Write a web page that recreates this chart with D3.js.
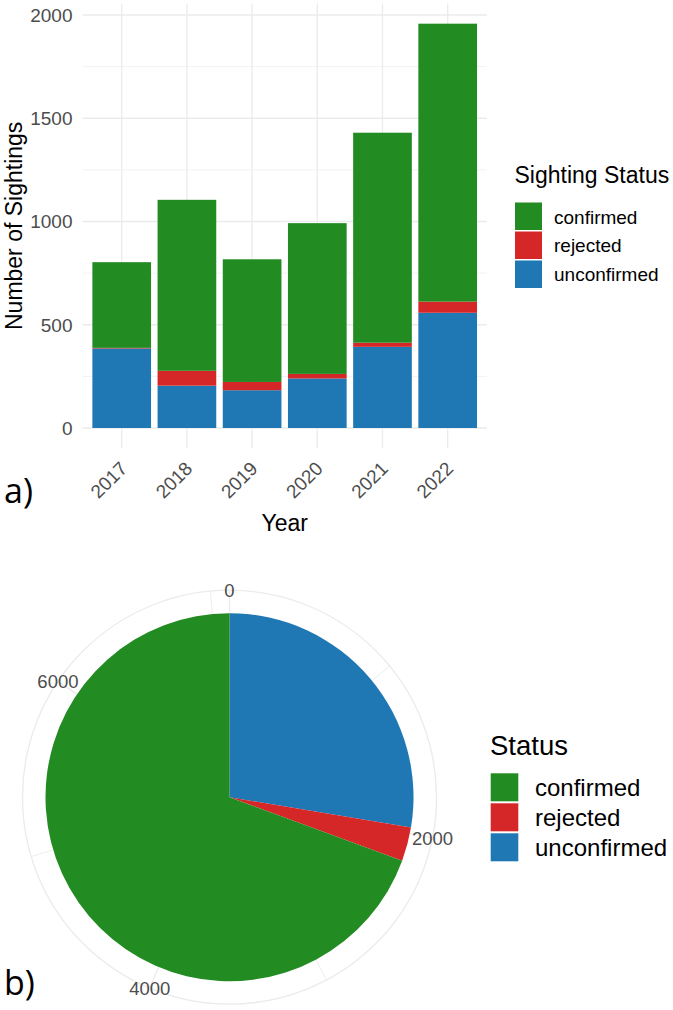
<!DOCTYPE html>
<html>
<head>
<meta charset="utf-8">
<script src="https://cdn.jsdelivr.net/npm/d3@7"></script>
<style>
  body { margin: 0; background: #fff; }
  text { font-family: "Liberation Sans", Arial, sans-serif; }
</style>
</head>
<body>
<svg id="chart" width="673" height="1010"></svg>
<script>
    // data
    var years = ["2017", "2018", "2019", "2020", "2021", "2022"];
    var unconfirmed = [385, 205, 183, 240, 393, 558];
    var rejected = [3, 72, 40, 22, 20, 54];
    var confirmed = [415, 828, 594, 730, 1017, 1346];
    var statusKeys = ["unconfirmed", "rejected", "confirmed"];
    var legendKeys = ["confirmed", "rejected", "unconfirmed"];
    var yTicks = [0, 500, 1000, 1500, 2000];
    var yMinor = [250, 750, 1250, 1750];
    var pieTicks = [0, 2000, 4000, 6000];
    var pieMinor = [1000, 3000, 5000, 7000];

    var colors = { confirmed: "#228b22", rejected: "#d62728", unconfirmed: "#1f77b4" };
    var grid = "#ebebeb";
    var tickCol = "#4d4d4d";

    var svg = d3.select("#chart");

    // ---------- a) stacked bars ----------
    var rows = years.map(function (y, i) {
        return { year: y, unconfirmed: unconfirmed[i], rejected: rejected[i], confirmed: confirmed[i] };
    });
    var totals = rows.map(function (d) { return d.unconfirmed + d.rejected + d.confirmed; });
    var maxTotal = d3.max(totals);

    var x = d3.scaleBand()
        .domain(years)
        .range([82.6, 486.8])
        .paddingInner(0.1)
        .paddingOuter(0.15);

    var y = d3.scaleLinear()
        .domain([0, 2000])
        .range([428, 15]);

    var panelTop = y(maxTotal * 1.05);
    var panelBottom = y(-maxTotal * 0.05);

    var barG = svg.append("g");

    barG.selectAll(".hminor").data(yMinor).enter().append("line")
        .attr("x1", 82.6).attr("x2", 486.8)
        .attr("y1", d => y(d)).attr("y2", d => y(d))
        .attr("stroke", grid).attr("stroke-width", 0.7);

    barG.selectAll(".hmajor").data(yTicks).enter().append("line")
        .attr("x1", 82.6).attr("x2", 486.8)
        .attr("y1", d => y(d)).attr("y2", d => y(d))
        .attr("stroke", grid).attr("stroke-width", 1.3);

    barG.selectAll(".vmajor").data(years).enter().append("line")
        .attr("x1", d => x(d) + x.bandwidth() / 2).attr("x2", d => x(d) + x.bandwidth() / 2)
        .attr("y1", panelTop).attr("y2", panelBottom)
        .attr("stroke", grid).attr("stroke-width", 1.3);

    var stack = d3.stack().keys(statusKeys)(rows);

    barG.selectAll(".layer").data(stack).enter().append("g")
        .attr("fill", d => colors[d.key])
        .selectAll("rect").data(d => d).enter().append("rect")
        .attr("x", d => x(d.data.year))
        .attr("width", x.bandwidth())
        .attr("y", d => y(d[1]))
        .attr("height", d => y(d[0]) - y(d[1]));

    // y tick labels
    barG.selectAll(".ylab").data(yTicks).enter().append("text")
        .attr("x", 72.5)
        .attr("y", d => y(d))
        .attr("dy", "0.36em")
        .attr("text-anchor", "end")
        .attr("font-size", 19)
        .attr("fill", tickCol)
        .text(d => d);

    // x tick labels, rotated 45
    barG.selectAll(".xlab").data(years).enter().append("text")
        .attr("transform", d => "translate(" + (x(d) + x.bandwidth() / 2 - 3) + "," + 460 + ") rotate(-45)")
        .attr("text-anchor", "end")
        .attr("dy", "0.72em")
        .attr("font-size", 19)
        .attr("fill", tickCol)
        .text(d => d);

    barG.append("text")
        .attr("x", (82.6 + 486.8) / 2)
        .attr("y", 531)
        .attr("text-anchor", "middle")
        .attr("font-size", 23)
        .text("Year");

    barG.append("text")
        .attr("transform", "translate(22," + ((panelTop + panelBottom) / 2) + ") rotate(-90)")
        .attr("text-anchor", "middle")
        .attr("font-size", 23)
        .text("Number of Sightings");

    // legend a
    var legA = barG.append("g");
    legA.append("text")
        .attr("x", 514.5).attr("y", 182.5)
        .attr("font-size", 23)
        .text("Sighting Status");
    legA.selectAll("rect").data(legendKeys).enter().append("rect")
        .attr("x", 515).attr("y", (d, i) => 202.5 + i * 29)
        .attr("width", 27).attr("height", 27.5)
        .attr("fill", d => colors[d]);
    legA.selectAll(".ltxt").data(legendKeys).enter().append("text")
        .attr("x", 554).attr("y", (d, i) => 223.5 + i * 28.5)
        .attr("font-size", 19)
        .text(d => d);

    svg.append("text")
        .attr("x", 4).attr("y", 503)
        .style("font-family", "'Open Sans', sans-serif")
        .attr("font-size", 34)
        .text("a)");

    // ---------- b) pie in polar coords ----------
    var pieTotals = {
        unconfirmed: d3.sum(unconfirmed),
        rejected: d3.sum(rejected),
        confirmed: d3.sum(confirmed)
    };
    var grand = pieTotals.unconfirmed + pieTotals.rejected + pieTotals.confirmed;
    var theta = d3.scaleLinear().domain([0, grand]).range([0, 2 * Math.PI]);

    var cx = 229.5, cy = 797.2, rPie = 184, rGrid = 207;
    var pieG = svg.append("g").attr("transform", "translate(" + cx + "," + cy + ")");

    pieG.append("circle").attr("r", rGrid)
        .attr("fill", "none").attr("stroke", grid).attr("stroke-width", 1.3);

    pieG.selectAll(".tminor").data(pieMinor).enter().append("line")
        .attr("x2", d => rGrid * Math.sin(theta(d)))
        .attr("y2", d => -rGrid * Math.cos(theta(d)))
        .attr("stroke", grid).attr("stroke-width", 0.9);
    pieG.selectAll(".tmajor").data(pieTicks).enter().append("line")
        .attr("x2", d => rGrid * Math.sin(theta(d)))
        .attr("y2", d => -rGrid * Math.cos(theta(d)))
        .attr("stroke", grid).attr("stroke-width", 1.3);

    var arc = d3.arc().innerRadius(0).outerRadius(rPie);
    var start = 0;
    var slices = statusKeys.map(function (k) {
        var s = { key: k, startAngle: theta(start), endAngle: theta(start + pieTotals[k]) };
        start += pieTotals[k];
        return s;
    });
    pieG.selectAll(".slice").data(slices).enter().append("path")
        .attr("d", arc)
        .attr("fill", d => colors[d.key]);

    pieG.selectAll(".plab").data(pieTicks).enter().append("text")
        .attr("x", d => rGrid * Math.sin(theta(d)))
        .attr("y", d => -rGrid * Math.cos(theta(d)))
        .attr("dy", "0.36em")
        .attr("text-anchor", "middle")
        .attr("font-size", 18.5)
        .attr("fill", tickCol)
        .text(d => d);

    // legend b
    var legB = svg.append("g");
    legB.append("text")
        .attr("x", 490).attr("y", 755)
        .attr("font-size", 27.5)
        .text("Status");
    legB.selectAll("rect").data(legendKeys).enter().append("rect")
        .attr("x", 490.7).attr("y", (d, i) => 773.3 + i * 30)
        .attr("width", 27.6).attr("height", 28)
        .attr("fill", d => colors[d]);
    legB.selectAll(".ltxt").data(legendKeys).enter().append("text")
        .attr("x", 535).attr("y", (d, i) => 795.5 + i * 30)
        .attr("font-size", 24)
        .text(d => d);

    svg.append("text")
        .attr("x", 4).attr("y", 995)
        .style("font-family", "'Open Sans', sans-serif")
        .attr("font-size", 34)
        .text("b)");
</script>
</body>
</html>
